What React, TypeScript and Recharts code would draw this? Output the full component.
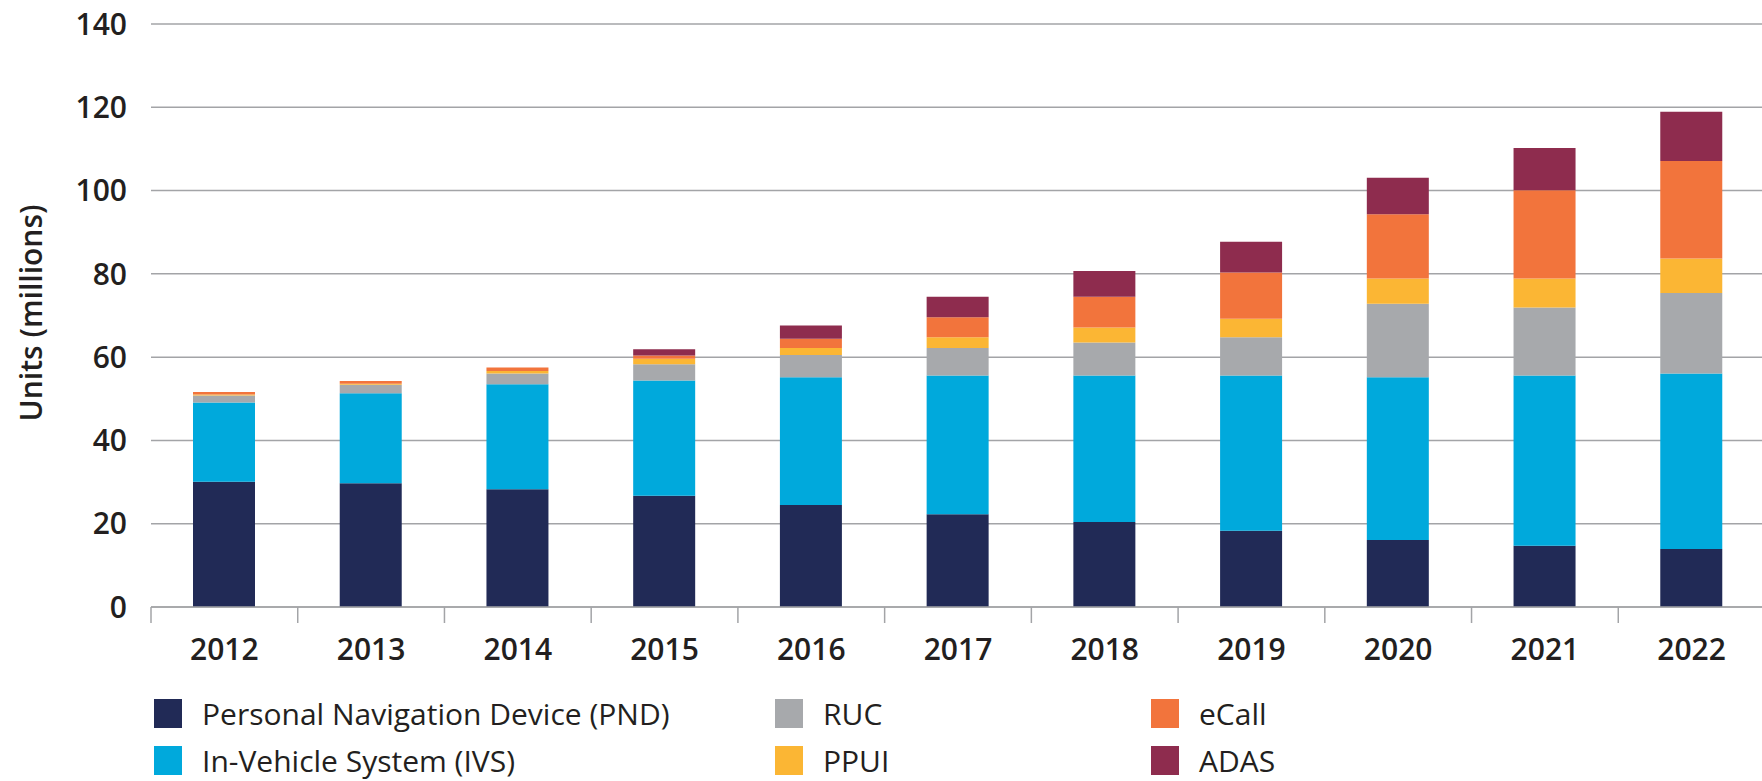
import React from 'react'
import { BarChart, Bar, XAxis, YAxis, CartesianGrid, Label } from 'recharts'

const years = ['2012', '2013', '2014', '2015', '2016', '2017', '2018', '2019', '2020', '2021', '2022']
const pnd = [30.1, 29.7, 28.3, 26.7, 24.5, 22.3, 20.4, 18.3, 16.1, 14.7, 13.9]
const ivs = [19.0, 21.6, 25.2, 27.7, 30.7, 33.3, 35.2, 37.3, 39.1, 40.9, 42.2]
const ruc = [1.7, 2.1, 2.6, 3.9, 5.3, 6.6, 7.9, 9.2, 17.6, 16.3, 19.3]
const ppui = [0.2, 0.2, 0.6, 1.3, 1.7, 2.6, 3.6, 4.4, 6.1, 7.0, 8.3]
const ecall = [0.6, 0.7, 0.8, 0.8, 2.2, 4.8, 7.4, 11.1, 15.4, 21.2, 23.4]
const adas = [0, 0, 0, 1.5, 3.2, 4.9, 6.2, 7.4, 8.8, 10.1, 11.8]
const yTicks = [0, 20, 40, 60, 80, 100, 120, 140]

const series = [
  { key: 'pnd', name: 'Personal Navigation Device (PND)', color: '#212a56', values: pnd },
  { key: 'ivs', name: 'In-Vehicle System (IVS)', color: '#00a9dc', values: ivs },
  { key: 'ruc', name: 'RUC', color: '#a7a9ac', values: ruc },
  { key: 'ppui', name: 'PPUI', color: '#fbb634', values: ppui },
  { key: 'ecall', name: 'eCall', color: '#f2743c', values: ecall },
  { key: 'adas', name: 'ADAS', color: '#8e2c4e', values: adas },
]

const data = years.map((year, i) => {
  const row: Record<string, string | number> = { year }
  series.forEach((s) => { row[s.key] = s.values[i] })
  return row
})

const W = 1762
const H = 781
const LEFT = 151
const RIGHT = -3
const FONT = '"Open Sans", sans-serif'
const GRID = '#a3a4a7'
const BAND = (W - LEFT - RIGHT) / years.length

const YearTick = (props: any) => {
  const { x, y, payload } = props
  const bx = x - BAND / 2
  return (
    <g>
      <line x1={bx} y1={y} x2={bx} y2={y + 16} stroke={GRID} strokeWidth={1.5} />
      <text x={x} y={y + 53} textAnchor="middle" fontFamily={FONT} fontWeight={600} fontSize={30} fill="#231f20">
        {payload.value}
      </text>
    </g>
  )
}

export default function App() {
  // legend is laid out in three columns of two rows
  const columns = [series.slice(0, 2), series.slice(2, 4), series.slice(4, 6)]
  const colX = [154, 775, 1151]

  return (
    <div style={{ position: 'absolute', left: 0, top: 0, width: W, height: H, overflow: 'hidden', background: '#fff' }}>
      <BarChart width={W} height={H} data={data} margin={{ top: 24, right: RIGHT, bottom: 0, left: 0 }} barSize={62}>
        <CartesianGrid vertical={false} stroke={GRID} strokeWidth={1.5} />
        <XAxis
          dataKey="year"
          height={174}
          tickSize={0}
          tickMargin={0}
          tickLine={false}
          axisLine={{ stroke: GRID, strokeWidth: 1.5 }}
          tick={<YearTick />}
          interval={0}
        />
        <YAxis
          width={LEFT}
          domain={[0, 140]}
          ticks={yTicks}
          tickSize={0}
          tickMargin={24}
          axisLine={false}
          tickLine={false}
          tick={{ fontFamily: FONT, fontWeight: 600, fontSize: 30, fill: '#231f20' }}
        >
          <Label
            content={() => (
              <text
                x={42}
                y={313}
                transform="rotate(-90 42 313)"
                textAnchor="middle"
                fontFamily={FONT}
                fontWeight={600}
                fontSize={30}
                fill="#231f20"
              >
                Units (millions)
              </text>
            )}
          />
        </YAxis>
        {series.map((s) => (
          <Bar key={s.key} dataKey={s.key} name={s.name} stackId="a" fill={s.color} isAnimationActive={false} />
        ))}
      </BarChart>

      {columns.map((col, c) =>
        col.map((s, r) => (
          <div
            key={s.key}
            style={{
              position: 'absolute',
              left: colX[c],
              top: 699 + r * 47,
              height: 29,
              display: 'flex',
              alignItems: 'center',
              fontFamily: FONT,
              fontSize: 30,
              fontWeight: 500,
              color: '#231f20',
              whiteSpace: 'nowrap',
            }}
          >
            <span style={{ display: 'inline-block', width: 28, height: 29, background: s.color, marginRight: 20 }} />
            <span>{s.name}</span>
          </div>
        ))
      )}
    </div>
  )
}
